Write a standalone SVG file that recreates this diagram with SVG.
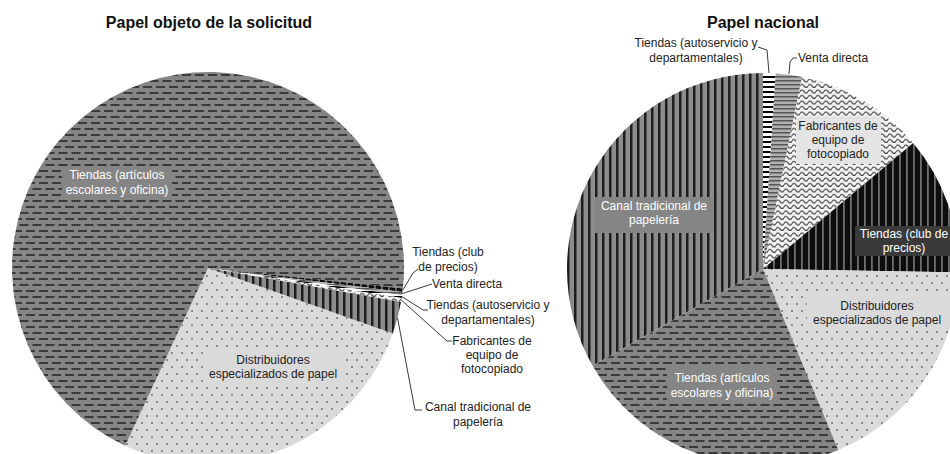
<svg xmlns="http://www.w3.org/2000/svg" width="950" height="454" viewBox="0 0 950 454">
<style>
.title{font-family:"Liberation Sans",Arial,sans-serif;font-weight:bold;font-size:16px;fill:#111;text-anchor:middle}
.lbl{font-family:"Liberation Sans",Arial,sans-serif;font-size:12px;fill:#222}
.c{text-anchor:middle}
.w{fill:#fff}
.lead{fill:none;stroke:#3a3a3a;stroke-width:1}
</style>
<defs>
<pattern id="pDash" width="13" height="12" patternUnits="userSpaceOnUse">
<rect width="13" height="12" fill="#858585"/>
<rect x="0" y="2" width="9" height="2" fill="#3a3a3a"/>
<rect x="6.5" y="8" width="9" height="2" fill="#3a3a3a"/>
<rect x="-6.5" y="8" width="9" height="2" fill="#3a3a3a"/>
</pattern>
<pattern id="pDots" width="10" height="14" patternUnits="userSpaceOnUse">
<rect width="10" height="14" fill="#dadada"/>
<rect x="1" y="2" width="2" height="2" fill="#8a8a8a"/>
<rect x="6" y="9" width="2" height="2" fill="#8a8a8a"/>
</pattern>
<pattern id="pVert" width="7" height="10" patternUnits="userSpaceOnUse">
<rect width="7" height="10" fill="#8c8c8c"/>
<rect x="0" width="2.5" height="10" fill="#1e1e1e"/>
</pattern>
<pattern id="pClub" width="7" height="10" patternUnits="userSpaceOnUse">
<rect width="7" height="10" fill="#0d0d0d"/>
<rect x="3" width="1.8" height="10" fill="#6e6e6e"/>
</pattern>
<pattern id="pWave" width="8" height="5.5" patternUnits="userSpaceOnUse">
<rect width="8" height="5.5" fill="#f2f2f2"/>
<path d="M0 3.5 Q2 0.5 4 3.5 T8 3.5" fill="none" stroke="#444" stroke-width="1.2"/>
</pattern>
<pattern id="pHGray" width="10" height="4" patternUnits="userSpaceOnUse">
<rect width="10" height="4" fill="#b0b0b0"/>
<rect y="0" width="10" height="1.5" fill="#555"/>
</pattern>
<pattern id="pHBlack" width="10" height="5" patternUnits="userSpaceOnUse">
<rect width="10" height="5" fill="#fff"/>
<rect y="1" width="10" height="2" fill="#000"/>
</pattern>
</defs>
<rect width="950" height="454" fill="#fff"/>

<g id="titles">
<text class="title" x="209" y="28">Papel objeto de la solicitud</text>
<text class="title" x="763" y="28">Papel nacional</text>
</g>

<!-- Left pie -->
<g id="L-distribuidores">
<path d="M208,268 L392.76,333.43 A196,196 0 0 1 125.17,445.64 Z" fill="url(#pDots)"/>
<rect x="203" y="349" width="140" height="34" fill="#dadada"/>
<text class="lbl c" x="273" y="364">Distribuidores</text>
<text class="lbl c" x="273" y="378">especializados de papel</text>
</g>
<g id="L-tiendas-articulos">
<path d="M208,268 L125.17,445.64 A196,196 0 1 1 402.93,288.49 Z" fill="url(#pDash)"/>
<rect x="62" y="167" width="110" height="31" fill="#858585"/>
<text class="lbl c w" x="117" y="179">Tiendas (artículos</text>
<text class="lbl c w" x="117" y="194">escolares y oficina)</text>
</g>
<g id="L-tiendas-club">
<path d="M208,268 L402.93,288.49 A196,196 0 0 1 402.54,291.89 Z" fill="url(#pClub)"/>
<text class="lbl c" x="448" y="256">Tiendas (club</text>
<text class="lbl c" x="448" y="271">de precios)</text>
</g>
<g id="L-venta-directa">
<path d="M208,268 L402.54,291.89 A196,196 0 0 1 402.09,295.28 Z" fill="url(#pHGray)"/>
<text class="lbl" x="432" y="288">Venta directa</text>
</g>
<g id="L-tiendas-autoservicio">
<path d="M208,268 L402.09,295.28 A196,196 0 0 1 401.69,297.99 Z" fill="url(#pHBlack)"/>
<text class="lbl c" x="488" y="309">Tiendas (autoservicio y</text>
<text class="lbl c" x="488" y="324">departamentales)</text>
</g>
<g id="L-fabricantes">
<path d="M208,268 L401.69,297.99 A196,196 0 0 1 401.02,302.04 Z" fill="url(#pWave)"/>
<text class="lbl c" x="492" y="345">Fabricantes de</text>
<text class="lbl c" x="492" y="359">equipo de</text>
<text class="lbl c" x="492" y="373">fotocopiado</text>
</g>
<g id="L-canal">
<path d="M208,268 L401.02,302.04 A196,196 0 0 1 392.76,333.43 Z" fill="url(#pVert)"/>
<text class="lbl c" x="478" y="411">Canal tradicional de</text>
<text class="lbl c" x="478" y="426">papelería</text>
</g>

<!-- Right pie -->
<g id="R-canal">
<path d="M763,269 L592.58,365.81 A196,196 0 0 1 763,73 Z" fill="url(#pVert)"/>
<rect x="595" y="197" width="118" height="36" fill="#858585"/>
<text class="lbl c w" x="654" y="210">Canal tradicional de</text>
<text class="lbl c w" x="654" y="224">papelería</text>
</g>
<g id="R-tiendas-autoservicio">
<path d="M763,269 L763,73 A196,196 0 0 1 775.65,73.41 Z" fill="url(#pHBlack)"/>
<text class="lbl c" x="696" y="47">Tiendas (autoservicio y</text>
<text class="lbl c" x="696" y="62">departamentales)</text>
</g>
<g id="R-venta-directa">
<path d="M763,269 L775.65,73.41 A196,196 0 0 1 802.08,76.94 Z" fill="url(#pHGray)"/>
<text class="lbl" x="798" y="62">Venta directa</text>
</g>
<g id="R-fabricantes">
<path d="M763,269 L802.08,76.94 A196,196 0 0 1 913.14,143.01 Z" fill="url(#pWave)"/>
<rect x="796" y="117" width="85" height="47" fill="#e4e4e4"/>
<text class="lbl c" x="838" y="130">Fabricantes de</text>
<text class="lbl c" x="838" y="144">equipo de</text>
<text class="lbl c" x="838" y="158">fotocopiado</text>
</g>
<g id="R-tiendas-club">
<path d="M763,269 L913.14,143.01 A196,196 0 0 1 958.97,272.42 Z" fill="url(#pClub)"/>
<rect x="855" y="226" width="100" height="30" fill="#3a3a3a"/>
<text class="lbl c w" x="904" y="238">Tiendas (club de</text>
<text class="lbl c w" x="904" y="252">precios)</text>
</g>
<g id="R-distribuidores">
<path d="M763,269 L958.97,272.42 A196,196 0 0 1 838.32,449.95 Z" fill="url(#pDots)"/>
<rect x="807" y="296" width="142" height="34" fill="#dadada"/>
<text class="lbl c" x="877" y="310">Distribuidores</text>
<text class="lbl c" x="877" y="324">especializados de papel</text>
</g>
<g id="R-tiendas-articulos">
<path d="M763,269 L838.32,449.95 A196,196 0 0 1 592.58,365.81 Z" fill="url(#pDash)"/>
<rect x="667" y="366" width="110" height="35" fill="#858585"/>
<text class="lbl c w" x="722" y="382">Tiendas (artículos</text>
<text class="lbl c w" x="722" y="397">escolares y oficina)</text>
</g>

<g id="connectors">
<polyline class="lead" points="402.7,290.2 413,273 418,269"/>
<polyline class="lead" points="402.3,293.6 432,284"/>
<polyline class="lead" points="401.9,296.6 423,310 428,310"/>
<polyline class="lead" points="401.3,300 447,341 452,341"/>
<polyline class="lead" points="397.5,317.9 415,410 422,410"/>
<polyline class="lead" points="758,47 767,50 769,73"/>
<polyline class="lead" points="789,74 790,62 793,58 797,58"/>
</g>
</svg>
